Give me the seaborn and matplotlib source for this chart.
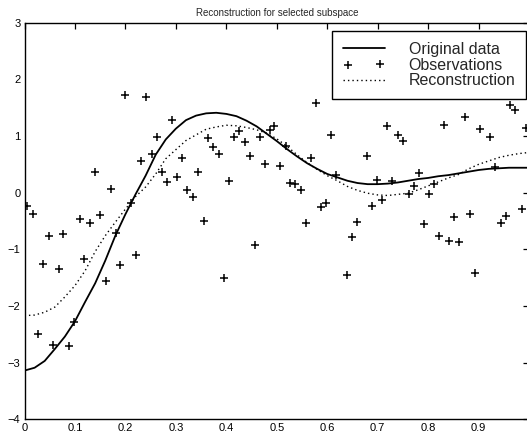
import numpy as np
import pandas as pd
import seaborn as sns
import matplotlib
matplotlib.use("Agg")
import matplotlib.pyplot as plt

# observations
obs_x = [0.005, 0.016, 0.027, 0.037, 0.048, 0.057, 0.068, 0.077, 0.089, 0.099,
         0.109, 0.118, 0.129, 0.139, 0.149, 0.161, 0.171, 0.181, 0.190, 0.199,
         0.212, 0.220, 0.230, 0.240, 0.252, 0.262, 0.272, 0.282, 0.292, 0.302,
         0.313, 0.322, 0.334, 0.343, 0.355, 0.363, 0.373, 0.385, 0.396, 0.405,
         0.415, 0.425, 0.436, 0.446, 0.456, 0.466, 0.476, 0.486, 0.495, 0.507,
         0.518, 0.526, 0.536, 0.547, 0.557, 0.567, 0.577, 0.588, 0.598, 0.608,
         0.617, 0.639, 0.649, 0.659, 0.678, 0.689, 0.699, 0.709, 0.718, 0.729,
         0.740, 0.750, 0.761, 0.771, 0.781, 0.792, 0.802, 0.812, 0.822, 0.832,
         0.842, 0.852, 0.862, 0.872, 0.882, 0.893, 0.902, 0.923, 0.933, 0.944,
         0.954, 0.963, 0.973, 0.985, 0.993]
obs_y = [-0.23, -0.38, -2.49, -1.26, -0.76, -2.69, -1.35, -0.73, -2.70, -2.29,
         -0.47, -1.17, -0.54, 0.37, -0.39, -1.56, 0.06, -0.72, -1.28, 1.72,
         -0.19, -1.10, 0.56, 1.69, 0.69, 0.99, 0.37, 0.18, 1.28, 0.28,
         0.61, 0.05, -0.07, 0.37, -0.50, 0.96, 0.81, 0.68, -1.50, 0.21,
         0.98, 1.09, 0.89, 0.65, -0.92, 0.99, 0.50, 1.11, 1.18, 0.47,
         0.83, 0.17, 0.15, 0.05, -0.53, 0.62, 1.59, -0.25, -0.19, 1.02,
         0.31, -1.45, -0.79, -0.52, 0.65, -0.23, 0.22, -0.13, 1.18, 0.21,
         1.02, 0.91, -0.02, 0.11, 0.35, -0.56, -0.02, 0.15, -0.76, 1.19,
         -0.85, -0.43, -0.87, 1.34, -0.38, -1.42, 1.12, 0.98, 0.46, -0.53,
         -0.42, 1.55, 1.46, -0.29, 1.14]

# curves sampled every 0.02
curve_x = [0.00, 0.02, 0.04, 0.06, 0.08, 0.10, 0.12, 0.14, 0.16, 0.18,
           0.20, 0.22, 0.24, 0.26, 0.28, 0.30, 0.32, 0.34, 0.36, 0.38,
           0.40, 0.42, 0.44, 0.46, 0.48, 0.50, 0.52, 0.54, 0.56, 0.58,
           0.60, 0.62, 0.64, 0.66, 0.68, 0.70, 0.72, 0.74, 0.76, 0.78,
           0.80, 0.82, 0.84, 0.86, 0.88, 0.90, 0.92, 0.94, 0.96, 0.98, 1.00]
original_y = [-3.14, -3.09, -2.97, -2.76, -2.54, -2.27, -1.93, -1.60, -1.20, -0.76,
              -0.38, -0.03, 0.30, 0.67, 0.94, 1.13, 1.28, 1.36, 1.40, 1.41,
              1.39, 1.35, 1.27, 1.17, 1.04, 0.91, 0.77, 0.64, 0.52, 0.42,
              0.33, 0.27, 0.21, 0.17, 0.15, 0.15, 0.16, 0.18, 0.21, 0.24,
              0.26, 0.29, 0.31, 0.34, 0.37, 0.40, 0.42, 0.43, 0.44, 0.44, 0.44]
recon_y = [-2.17, -2.16, -2.11, -2.02, -1.84, -1.64, -1.38, -1.04, -0.76, -0.52,
           -0.29, -0.07, 0.10, 0.33, 0.60, 0.76, 0.92, 1.02, 1.12, 1.16,
           1.19, 1.18, 1.15, 1.11, 1.05, 0.95, 0.82, 0.67, 0.53, 0.41,
           0.30, 0.21, 0.11, 0.04, -0.01, -0.04, -0.05, -0.03, -0.01, 0.05,
           0.12, 0.19, 0.26, 0.32, 0.42, 0.50, 0.56, 0.62, 0.66, 0.69, 0.71]

sns.set_theme(style="white")
plt.rcParams['font.family'] = ['Liberation Sans', 'DejaVu Sans']

fig = plt.figure(figsize=(5.27, 4.38), dpi=100)
ax = fig.add_axes([0.0465, 0.0427, 0.9575, 0.9055])

curves = pd.DataFrame({"x": curve_x, "orig": original_y, "recon": recon_y})
obs = pd.DataFrame({"x": obs_x, "y": obs_y})

sns.lineplot(data=curves, x="x", y="orig", ax=ax, color="black", linewidth=1.3,
             estimator=None, label="Original data")
sns.scatterplot(data=obs, x="x", y="y", ax=ax, marker="+", color="black",
                s=32, linewidth=1.1, label="Observations")
sns.lineplot(data=curves, x="x", y="recon", ax=ax, color="black", linewidth=1.0,
             linestyle=(0, (1, 2.2)), estimator=None, label="Reconstruction")

ax.set_xlim(0, 1)
ax.set_ylim(-4, 3)
ax.set_xticks([0, 0.1, 0.2, 0.3, 0.4, 0.5, 0.6, 0.7, 0.8, 0.9, 1.0])
# the label of the last tick falls outside the cropped picture
ax.set_xticklabels(["0", "0.1", "0.2", "0.3", "0.4", "0.5", "0.6", "0.7", "0.8", "0.9", ""])
ax.set_yticks([-4, -3, -2, -1, 0, 1, 2, 3])
ax.set_xlabel("")
ax.set_ylabel("")
ax.tick_params(direction="in", length=4, width=0.9, top=True, right=True,
               labelsize=8, pad=3, colors="black")
for s in ax.spines.values():
    s.set_visible(True)
    s.set_color("black")
    s.set_linewidth(1.0)

ax.set_title("Reconstruction for selected subspace", fontsize=7, pad=5)

leg = ax.legend(loc="upper right", bbox_to_anchor=(0.994, 0.979), borderaxespad=0,
                fontsize=11.5, frameon=True, fancybox=False, edgecolor="black",
                framealpha=1, handlelength=2.6, handletextpad=1.5,
                labelspacing=0.05, scatterpoints=2, borderpad=0.67)
leg.get_frame().set_linewidth(1.0)

fig.savefig("out.png", dpi=100)
